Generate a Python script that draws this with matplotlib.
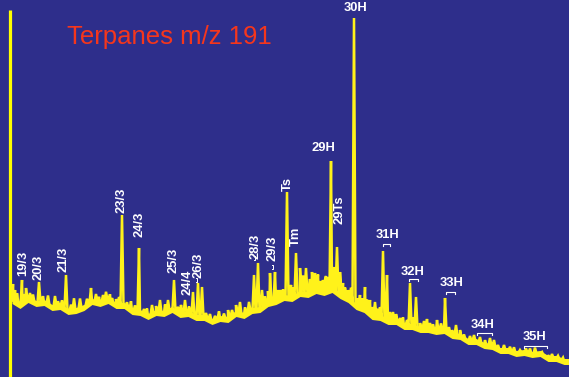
import numpy as np
import matplotlib
matplotlib.use("Agg")
import matplotlib.pyplot as plt

# Terpane fragmentogram (m/z 191): scan number vs. detector response
baseline_scan = [12, 20, 28, 36, 44, 52, 60, 68, 76, 84, 92, 100, 108, 116, 124,
                 132, 140, 148, 156, 164, 172, 180, 188, 196, 204, 212, 220, 228,
                 236, 244, 252, 260, 268, 276, 284, 292, 300, 308, 316, 324, 332,
                 340, 348, 356, 364, 372, 380, 388, 396, 404, 412, 420, 428, 436,
                 444, 452, 460, 468, 476, 484, 492, 500, 508, 516, 524, 532, 540,
                 548, 556, 564, 569]
baseline_resp = [77, 72, 78, 74, 75, 70, 71, 66, 67, 70, 76, 74, 77, 72, 72,
                 66, 65, 61, 65, 64, 68, 63, 64, 60, 60, 56, 59, 58,
                 64, 62, 67, 68, 74, 76, 80, 79, 84, 83, 87, 85, 88,
                 82, 78, 71, 68, 61, 60, 56, 56, 51, 51, 48, 48, 46,
                 47, 42, 41, 36, 36, 32, 31, 27, 27, 24, 25, 23, 24,
                 19, 19, 16, 16]

# resolved peaks: apex response
peak_scan = [13, 15, 22, 26, 30, 39, 55, 66, 91, 103, 112, 122, 139, 152, 160,
             174, 185, 193, 198, 202, 228, 240, 254, 258, 262, 270, 275, 280,
             287, 296, 300, 306, 315, 320, 323, 326, 328, 331, 334, 337, 340,
             343, 348, 354, 360, 365, 370, 375, 383, 387, 393, 400, 410, 416,
             430, 437, 445, 456, 480, 490, 504, 520, 542]
peak_resp = [93, 87, 97, 89, 84, 95, 81, 102, 89, 82, 79, 162, 129, 72, 77,
             97, 77, 85, 94, 90, 67, 75, 102, 114, 87, 104, 105, 87,
             185, 124, 109, 109, 104, 96, 97, 101, 100, 216, 110, 130, 105,
             94, 87, 359, 82, 90, 77, 75, 126, 102, 65, 59, 94, 80,
             54, 57, 79, 52, 40, 39, 32, 27, 25]

# unresolved minor components: height above baseline
minor_scan = [17, 24, 33, 43, 48, 58, 62, 71, 74, 80, 87, 96, 99, 106, 110, 116,
              119, 127, 131, 135, 144, 147, 156, 165, 168, 178, 181, 189, 206,
              210, 215, 219, 224, 232, 236, 245, 249, 265, 268, 278, 283, 291,
              293, 303, 310, 312, 318, 325, 345, 351, 357, 362, 367, 372, 378,
              380, 390, 396, 403, 407, 413, 420, 424, 427, 433, 441, 449, 452,
              460, 464, 470, 474, 485, 494, 498, 510, 514, 526, 530, 535, 548,
              552, 558, 563]
minor_height = [10, 8, 7, 6, 9, 5, 7, 6, 12, 10, 6, 8, 6, 9, 7, 6,
                8, 5, 9, 6, 5, 7, 6, 8, 11, 6, 9, 7, 5,
                6, 4, 7, 5, 6, 8, 7, 10, 9, 12, 10, 8, 13,
                10, 18, 14, 20, 16, 12, 10, 14, 8, 10, 12, 9, 8,
                10, 9, 7, 8, 6, 9, 6, 8, 10, 6, 7, 6, 5,
                6, 4, 5, 6, 5, 7, 4, 4, 5, 4, 5, 6, 3,
                4, 3, 3]

# Peak assignments (tricyclics, Ts/Tm, hopanes)
rot_labels = ["19/3", "20/3", "21/3", "23/3", "24/3", "25/3", "24/4", "26/3",
              "28/3", "29/3", "Ts", "Tm", "29Ts"]
rot_label_scan = [23, 39, 64, 122, 140, 174, 188, 199, 256, 273, 288, 296, 340]
rot_label_resp = [114, 110, 118, 177, 153, 117, 95, 112, 131, 129, 193, 141, 167]

hop_labels = ["29H", "30H", "31H", "32H", "33H", "34H", "35H"]
hop_label_scan = [323, 356, 388, 413, 452, 483, 535]
hop_label_resp = [229, 369, 142, 105, 94, 52, 40]

# Bracketed doublets (22S/22R) under homohopane labels
bracket_lo = [383, 409, 446, 477, 524]
bracket_hi = [390, 418, 455, 492, 547]
bracket_resp = [133, 98, 85, 44, 31]

BG = "#2E2E8B"
TRACE = "#FFF21A"


def base_at(x):
    return float(np.interp(x, baseline_scan, baseline_resp))


# assemble the trace: baseline plus narrow peaks
half_w = 1.5
xs = list(baseline_scan)
ys = list(baseline_resp)
apexes = list(zip(peak_scan, peak_resp))
apexes += [(s, base_at(s) + h) for s, h in zip(minor_scan, minor_height)]
for s, r in apexes:
    for dx in (-half_w, 0.0, half_w):
        x = s + dx
        xs.append(x)
        ys.append(r if dx == 0.0 else base_at(x))
order = np.argsort(xs, kind="stable")
xs = np.asarray(xs)[order]
ys = np.asarray(ys)[order]

fig = plt.figure(figsize=(5.69, 3.77), dpi=100, facecolor=BG)
ax = fig.add_axes([0, 0, 1, 1])
ax.set_facecolor(BG)
ax.set_xlim(0, 569)
ax.set_ylim(0, 377)
ax.axis("off")

# response axis
ax.plot([10, 10], [0, 367], color="#FFFF00", lw=2.3, solid_capstyle="butt")

# baseline noise band and the trace itself
bs = np.asarray(baseline_scan, dtype=float)
br = np.asarray(baseline_resp, dtype=float)
ax.fill_between(bs, br - 3.5, br + 2.5, color=TRACE, lw=0)
ax.plot(xs, ys, color=TRACE, lw=1.8, solid_joinstyle="miter")

ax.text(67, 333, "Terpanes m/z 191", color="#F5361C", fontsize=18.5,
        family=["Liberation Sans", "DejaVu Sans"], ha="left", va="baseline")

lab_font = dict(color="white", fontsize=9.3, fontweight="bold",
                family=["Liberation Sans", "DejaVu Sans"])
for t, x, y in zip(rot_labels, rot_label_scan, rot_label_resp):
    ax.text(x, y, t, rotation=90, ha="center", va="center", **lab_font)
for t, x, y in zip(hop_labels, hop_label_scan, hop_label_resp):
    ax.text(x, y, t, ha="center", va="center", **lab_font)

for lo, hi, y in zip(bracket_lo, bracket_hi, bracket_resp):
    ax.plot([lo, lo, hi, hi], [y - 2, y, y, y - 2], color="white", lw=0.8)

# small bracket marks beside tricyclic doublets
for x, y in ((197, 97), (255, 119), (273, 110)):
    ax.plot([x - 1, x, x, x - 1], [y - 2, y - 2, y + 2, y + 2], color="white", lw=0.7)

fig.savefig("out.png", dpi=100, facecolor=BG)
